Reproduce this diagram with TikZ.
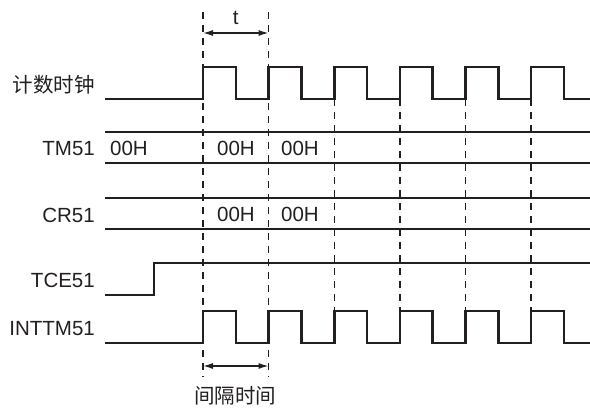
\documentclass[tikz,border=0pt]{standalone}
\usepackage{fontspec}
\setmainfont{Liberation Sans}
\newfontfamily\cjk{Noto Sans CJK SC}
\usetikzlibrary{arrows.meta}

\definecolor{ink}{HTML}{231F20}

\begin{document}
\begin{tikzpicture}[
    x=1pt, y=-1pt,
    >={Latex[length=10pt,width=6pt]},
    sig/.style={draw=ink, line width=2.6pt, line join=miter},
    bus/.style={draw=ink, line width=2.6pt},
    guide/.style={draw=ink, line width=1.4pt, dash pattern=on 7pt off 6pt},
    dimarr/.style={<->, draw=ink, line width=1.4pt},
    lbl/.style={anchor=east, inner sep=0pt, text=ink, font=\fontsize{20.5}{24}\selectfont},
    val/.style={inner sep=0pt, text=ink, font=\fontsize{20.5}{24}\selectfont},
]
\useasboundingbox (0,0) rectangle (590,409);

% Signal names
\node[lbl] (nclk) at (95,85) {\cjk 计数时钟};
\node[lbl] (ntm) at (95,149) {TM51};
\node[lbl] (ncr) at (95,215) {CR51};
\node[lbl] (ntce) at (95,280) {TCE51};
\node[lbl] (nint) at (95,329) {INTTM51};

% Guide lines at rising edges
\foreach \i in {0,1}
    \draw[guide] ({203+65.6*\i},12) -- ({203+65.6*\i},377);
\foreach \i in {2,...,5}
    \draw[guide] ({203+65.6*\i},99) -- ({203+65.6*\i},311);

% Count clock
\draw[sig] (105,99) \foreach \i in {0,...,5} {
    -- ({203+65.6*\i},99) -- ++(0,-32) -- ++(32.8,0) -- ++(0,32)} -- (590,99);

% TM51 bus
\draw[bus] (105,132) -- (590,132);
\draw[bus] (105,163) -- (590,163);
\node[val, anchor=west] (tm0) at (110,148) {00H};
\node[val] (tm1) at (236,148) {00H};
\node[val] (tm2) at (300,148) {00H};

% CR51 bus
\draw[bus] (105,198) -- (590,198);
\draw[bus] (105,229) -- (590,229);
\node[val] (cr1) at (236,214) {00H};
\node[val] (cr2) at (300,214) {00H};

% TCE51
\draw[sig] (105,295) -- (154,295) -- (154,263) -- (590,263);

% INTTM51
\draw[sig] (105,343) \foreach \i in {0,...,5} {
    -- ({203+65.6*\i},343) -- ++(0,-32) -- ++(32.8,0) -- ++(0,32)} -- (590,343);

% Period t
\coordinate (ta) at (203,33);
\coordinate (tb) at (268.6,33);
\draw[dimarr] (ta) -- node[val, above=8pt] (tlbl) {t} (tb);

% Interval time
\coordinate (ia) at (203,366);
\coordinate (ib) at (268.6,366);
\draw[dimarr] (ia) -- (ib);
\node[val] (ilbl) at (235,396) {\cjk 间隔时间};

\end{tikzpicture}
\end{document}
